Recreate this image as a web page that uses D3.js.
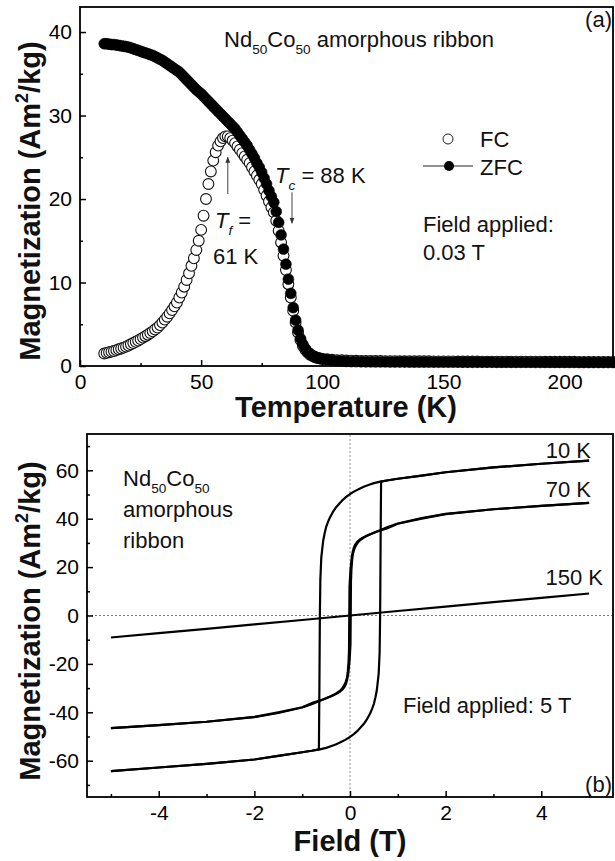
<!DOCTYPE html>
<html>
<head>
<meta charset="utf-8">
<script src="https://cdn.jsdelivr.net/npm/d3@7"></script>
<style>
  body { margin: 0; background: #fff; }
  svg { font-family: "Liberation Sans", Arial, sans-serif; }
</style>
</head>
<body>
<svg id="chart" width="615" height="861"></svg>
<script>
// ---- panel (a): M(T), FC / ZFC ----
const temps = [
  10, 11, 12, 13, 14, 15, 16, 17, 18, 19,
  20, 21, 22, 23, 24, 25, 26, 27, 28, 29,
  30, 31, 32, 33, 34, 35, 36, 37, 38, 39,
  40, 41, 42, 43, 44, 45, 46, 47, 48, 49,
  50, 51, 52, 53, 54, 55, 56, 57, 58, 59,
  60, 61, 62, 63, 64, 65, 66, 67, 68, 69,
  70, 71, 72, 73, 74, 75, 76, 77, 78, 79,
  80, 81, 82, 83, 84, 85, 86, 87, 88, 89,
  90, 91, 92, 93, 94, 95, 96, 97, 98, 99, 100,
  102, 104, 106, 108, 110, 112, 114, 116, 118, 120,
  122, 124, 126, 128, 130, 132, 134, 136, 138, 140,
  142, 144, 146, 148, 150, 152, 154, 156, 158, 160,
  162, 164, 166, 168, 170, 172, 174, 176, 178, 180,
  182, 184, 186, 188, 190, 192, 194, 196, 198, 200,
  202, 204, 206, 208, 210, 212, 214, 216, 218, 220
];
const fcMoment = [
  1.50, 1.57, 1.65, 1.72, 1.80, 1.90, 2.00, 2.10, 2.20, 2.32,
  2.45, 2.60, 2.75, 2.90, 3.05, 3.22, 3.40, 3.57, 3.75, 3.95,
  4.15, 4.37, 4.60, 4.90, 5.20, 5.55, 5.90, 6.30, 6.70, 7.15,
  7.60, 8.20, 8.80, 9.50, 10.30, 11.10, 12.00, 12.90, 13.90, 15.00,
  16.30, 18.00, 20.00, 21.80, 23.30, 24.60, 25.60, 26.40, 26.90, 27.30,
  27.50, 27.50, 27.30, 27.00, 26.70, 26.30, 25.90, 25.50, 25.10, 24.70,
  24.30, 23.80, 23.30, 22.80, 22.30, 21.80, 21.10, 20.40, 19.70, 19.00,
  18.40, 17.40, 16.20, 14.80, 13.20, 11.50, 9.80, 8.20, 6.60, 5.20,
  4.00, 3.10, 2.40, 1.95, 1.60, 1.35, 1.20, 1.05, 0.95, 0.90, 0.85,
  0.80, 0.75, 0.70, 0.68, 0.66, 0.64, 0.62, 0.61, 0.60, 0.60,
  0.59, 0.59, 0.58, 0.58, 0.58, 0.57, 0.57, 0.57, 0.56, 0.56,
  0.56, 0.56, 0.55, 0.55, 0.55, 0.55, 0.55, 0.54, 0.54, 0.54,
  0.54, 0.54, 0.53, 0.53, 0.53, 0.53, 0.53, 0.53, 0.52, 0.52,
  0.52, 0.52, 0.52, 0.52, 0.52, 0.51, 0.51, 0.51, 0.51, 0.51,
  0.51, 0.51, 0.50, 0.50, 0.50, 0.50, 0.50, 0.50, 0.50, 0.50
];
const zfcMoment = [
  38.60, 38.60, 38.55, 38.50, 38.50, 38.45, 38.40, 38.35, 38.30, 38.25,
  38.20, 38.10, 38.00, 37.90, 37.80, 37.70, 37.60, 37.50, 37.40, 37.30,
  37.20, 37.05, 36.90, 36.75, 36.60, 36.40, 36.20, 36.00, 35.80, 35.60,
  35.40, 35.20, 34.90, 34.60, 34.30, 34.00, 33.70, 33.40, 33.10, 32.85,
  32.60, 32.30, 32.00, 31.70, 31.40, 31.10, 30.80, 30.50, 30.20, 29.90,
  29.60, 29.30, 29.00, 28.70, 28.40, 28.00, 27.60, 27.20, 26.80, 26.40,
  25.90, 25.40, 24.90, 24.30, 23.80, 23.20, 22.50, 21.80, 21.00, 20.30,
  19.60, 18.50, 17.20, 15.70, 14.00, 12.20, 10.40, 8.70, 7.00, 5.50,
  4.30, 3.30, 2.60, 2.10, 1.70, 1.45, 1.25, 1.10, 1.00, 0.92, 0.85,
  0.75, 0.68, 0.62, 0.58, 0.55, 0.53, 0.52, 0.51, 0.50, 0.50,
  0.49, 0.49, 0.49, 0.48, 0.48, 0.48, 0.48, 0.47, 0.47, 0.47,
  0.47, 0.47, 0.46, 0.46, 0.46, 0.46, 0.46, 0.46, 0.45, 0.45,
  0.45, 0.45, 0.45, 0.45, 0.45, 0.44, 0.44, 0.44, 0.44, 0.44,
  0.44, 0.44, 0.44, 0.43, 0.43, 0.43, 0.43, 0.43, 0.43, 0.43,
  0.43, 0.43, 0.42, 0.42, 0.42, 0.42, 0.42, 0.42, 0.42, 0.42
];
const tempTicks = [0, 50, 100, 150, 200];
const tempMinor = [25, 75, 125, 175];
const momentTicksA = [0, 10, 20, 30, 40];
const momentMinorA = [5, 15, 25, 35];

// ---- panel (b): hysteresis loops ----
const desc10Field  = [5, 4, 3, 2, 1.5, 1, 0.8, 0.63, 0.5, 0.4, 0.3, 0.2, 0.1, 0, -0.08, -0.15, -0.22, -0.3, -0.36, -0.42, -0.46, -0.5, -0.53, -0.56, -0.58, -0.6, -0.61, -0.62, -0.63, -0.64, -0.65, -0.8, -1, -1.5, -2, -3, -4, -5];
const desc10Moment = [64.0, 62.7, 61.2, 59.2, 57.8, 56.5, 55.9, 55.3, 54.7, 54.0, 53.3, 52.4, 51.4, 50.2, 49.0, 47.8, 46.3, 44.5, 42.7, 40.5, 38.7, 36.5, 34.0, 31.0, 27.5, 24.0, 19.5, 15.0, 0, -30, -55.3, -55.9, -56.5, -58.0, -59.5, -61.3, -62.8, -64.3];
const asc10Field   = [-5, -4, -3, -2, -1.5, -1, -0.8, -0.63, -0.5, -0.4, -0.3, -0.2, -0.1, 0, 0.08, 0.15, 0.22, 0.3, 0.36, 0.42, 0.46, 0.5, 0.53, 0.56, 0.58, 0.6, 0.61, 0.62, 0.63, 0.64, 0.65, 0.8, 1, 1.5, 2, 3, 4, 5];
const asc10Moment  = [-64.3, -62.8, -61.3, -59.5, -58.0, -56.5, -55.9, -55.3, -54.7, -54.0, -53.3, -52.4, -51.4, -50.2, -49.0, -47.8, -46.3, -44.5, -42.7, -40.5, -38.7, -36.5, -34.0, -31.0, -27.5, -24.0, -19.5, -15.0, 0, 30, 55.3, 55.9, 56.5, 57.8, 59.2, 61.2, 62.7, 64.0];

const desc70Field  = [5, 4, 3, 2, 1.5, 1, 0.8, 0.63, 0.5, 0.4, 0.32, 0.25, 0.2, 0.15, 0.11, 0.08, 0.06, 0.04, 0.025, 0.01, -0.01, -0.015, -0.02, -0.03, -0.045, -0.06, -0.09, -0.12, -0.16, -0.2, -0.3, -0.4, -0.55, -0.77, -1, -1.5, -2, -3, -4, -5];
const desc70Moment = [46.5, 45.3, 43.9, 42.0, 40.3, 38.0, 36.7, 35.2, 34.2, 33.4, 32.7, 32.0, 31.3, 30.4, 29.4, 28.0, 26.5, 24.5, 22.0, 19.0, 12.0, 0, -14, -19, -23, -25.5, -27.4, -28.8, -30.0, -31.0, -32.3, -33.4, -34.6, -36.0, -37.9, -40.0, -41.9, -43.9, -45.3, -46.5];
const asc70Field   = [-5, -4, -3, -2, -1.5, -1, -0.8, -0.63, -0.5, -0.4, -0.32, -0.25, -0.2, -0.15, -0.11, -0.08, -0.06, -0.04, -0.025, -0.01, 0.01, 0.015, 0.02, 0.03, 0.045, 0.06, 0.09, 0.12, 0.16, 0.2, 0.3, 0.4, 0.55, 0.77, 1, 1.5, 2, 3, 4, 5];
const asc70Moment  = [-46.5, -45.3, -43.9, -42.0, -40.3, -38.0, -36.7, -35.2, -34.2, -33.4, -32.7, -32.0, -31.3, -30.4, -29.4, -28.0, -26.5, -24.5, -22.0, -19.0, -12.0, 0, 14, 19, 23, 25.5, 27.4, 28.8, 30.0, 31.0, 32.3, 33.4, 34.6, 36.0, 37.9, 40.0, 41.9, 43.9, 45.3, 46.5];

const loop150Field  = [-5, -4, -3, -2, -1, 0, 1, 2, 3, 4, 5];
const loop150Moment = [-9.1, -7.3, -5.5, -3.7, -1.85, 0, 1.85, 3.7, 5.5, 7.3, 9.1];

const fieldTicks = [-4, -2, 0, 2, 4];
const fieldMinor = [-5, -3, -1, 1, 3, 5];
const momentTicksB = [-60, -40, -20, 0, 20, 40, 60];
const momentMinorB = [-70, -50, -30, -10, 10, 30, 50, 70];

const svg = d3.select("#chart");

function pairs(xs, ys) {
  return xs.map((v, i) => [v, ys[i]]);
}

// plain hyphen for negatives, like the original
const plain = d => String(d);

function drawAxes(x, y, cfg) {
  const [x0, x1] = x.range();
  const [y0, y1] = y.range();

  const styleAxis = g => {
    g.select(".domain").remove();
    g.selectAll(".tick line").attr("stroke", "#000").attr("stroke-width", 1.5);
    g.selectAll(".tick text").attr("fill", "#000").style("font-size", "21px")
      .style("font-family", "'Liberation Sans', Arial, sans-serif");
  };

  svg.append("g")
    .attr("transform", `translate(0,${y0})`)
    .call(d3.axisBottom(x).tickValues(cfg.xMajor).tickFormat(plain)
      .tickSizeInner(-6).tickSizeOuter(0).tickPadding(cfg.xPad))
    .call(styleAxis);
  svg.append("g")
    .attr("transform", `translate(0,${y0})`)
    .call(d3.axisBottom(x).tickValues(cfg.xMinor).tickFormat("")
      .tickSizeInner(-3).tickSizeOuter(0))
    .call(styleAxis);

  svg.append("g")
    .attr("transform", `translate(${x0},0)`)
    .call(d3.axisLeft(y).tickValues(cfg.yMajor).tickFormat(plain)
      .tickSizeInner(-6).tickSizeOuter(0).tickPadding(cfg.yPad))
    .call(styleAxis);
  svg.append("g")
    .attr("transform", `translate(${x0},0)`)
    .call(d3.axisLeft(y).tickValues(cfg.yMinor).tickFormat("")
      .tickSizeInner(-3).tickSizeOuter(0))
    .call(styleAxis);

  svg.append("rect")
    .attr("x", x0).attr("y", y1)
    .attr("width", x1 - x0).attr("height", y0 - y1)
    .attr("fill", "none").attr("stroke", "#000").attr("stroke-width", 1.8);
}

function label(x, y, size, parts, opts = {}) {
  const t = svg.append("text")
    .attr("x", x).attr("y", y)
    .attr("text-anchor", opts.anchor || "start")
    .style("font-size", size + "px")
    .attr("fill", "#111");
  if (opts.bold) t.style("font-weight", "bold");
  if (opts.rotate) t.attr("transform", `rotate(-90,${x},${y})`);
  parts.forEach(p => {
    const s = t.append("tspan").text(p.text);
    if (p.sub) s.style("font-size", (size * 0.62) + "px").attr("dy", size * 0.3);
    if (p.sup) s.style("font-size", (size * 0.62) + "px").attr("dy", -size * 0.4);
    if (p.back) s.attr("dy", p.back);
    if (p.italic) s.style("font-style", "italic");
  });
  return t;
}

// ================= panel (a) =================
const xA = d3.scaleLinear().domain([0, 220]).range([80, 613]);
const yA = d3.scaleLinear().domain([0, 43]).range([366, 7]);

const fcData = pairs(temps, fcMoment);
const zfcData = pairs(temps, zfcMoment);

svg.append("g").selectAll("circle")
  .data(fcData).join("circle")
  .attr("cx", d => xA(d[0])).attr("cy", d => yA(d[1])).attr("r", 5.4)
  .attr("fill", "#fff").attr("stroke", "#111").attr("stroke-width", 1.1);

svg.append("g").selectAll("circle")
  .data(zfcData).join("circle")
  .attr("cx", d => xA(d[0])).attr("cy", d => yA(d[1])).attr("r", 5.4)
  .attr("fill", "#000").attr("stroke", "#000").attr("stroke-width", 0.6);

drawAxes(xA, yA, {
  xMajor: tempTicks, xMinor: tempMinor, xPad: 8,
  yMajor: momentTicksA, yMinor: momentMinorA, yPad: 8
});

// arrows
const defs = svg.append("defs");
defs.append("marker")
  .attr("id", "head").attr("viewBox", "0 0 10 10")
  .attr("refX", 9).attr("refY", 5)
  .attr("markerWidth", 6).attr("markerHeight", 8).attr("orient", "auto")
  .append("path").attr("d", "M0,1 L10,5 L0,9 Z").attr("fill", "#333");

svg.append("line")
  .attr("x1", xA(61)).attr("y1", yA(20.6))
  .attr("x2", xA(61)).attr("y2", yA(25.0))
  .attr("stroke", "#444").attr("stroke-width", 1)
  .attr("marker-end", "url(#head)");
svg.append("line")
  .attr("x1", xA(87.5)).attr("y1", yA(20.8))
  .attr("x2", xA(87.5)).attr("y2", yA(17.1))
  .attr("stroke", "#444").attr("stroke-width", 1)
  .attr("marker-end", "url(#head)");

// legend
svg.append("circle").attr("cx", 448).attr("cy", 139).attr("r", 5)
  .attr("fill", "#fff").attr("stroke", "#222").attr("stroke-width", 1);
svg.append("line").attr("x1", 423).attr("x2", 473).attr("y1", 166).attr("y2", 166)
  .attr("stroke", "#222").attr("stroke-width", 1);
svg.append("circle").attr("cx", 449).attr("cy", 166).attr("r", 5).attr("fill", "#000");
label(480, 147, 22, [{ text: "FC" }]);
label(480, 175, 22, [{ text: "ZFC" }]);

label(224, 47, 22, [
  { text: "Nd" }, { text: "50", sub: true }, { text: "Co", back: -22 * 0.3 },
  { text: "50", sub: true }, { text: " amorphous ribbon", back: -22 * 0.3 }
]);
label(612, 27, 22, [{ text: "(a)" }], { anchor: "end" });
label(275, 183, 22, [
  { text: "T", italic: true }, { text: "c", sub: true, italic: true },
  { text: " = 88 K", back: -22 * 0.3 }
]);
label(215, 228, 22, [
  { text: "T", italic: true }, { text: "f", sub: true, italic: true },
  { text: " =", back: -22 * 0.3 }
]);
label(213, 264, 22, [{ text: "61 K" }]);
label(423, 232, 22, [{ text: "Field applied:" }]);
label(423, 260, 22, [{ text: "0.03 T" }]);

label(346, 417, 29, [{ text: "Temperature (K)" }], { anchor: "middle", bold: true });
label(40, 201, 29, [
  { text: "Magnetization (Am" }, { text: "2", sup: true },
  { text: "/kg)", back: 29 * 0.4 }
], { anchor: "middle", bold: true, rotate: true });

// ================= panel (b) =================
const xB = d3.scaleLinear().domain([-5.5, 5.5]).range([87, 613]);
const yB = d3.scaleLinear().domain([-75, 75]).range([797, 434]);

svg.append("line")
  .attr("x1", xB(-5.5)).attr("x2", xB(5.5)).attr("y1", yB(0)).attr("y2", yB(0))
  .attr("stroke", "#555").attr("stroke-width", 0.8).attr("stroke-dasharray", "2,2");
svg.append("line")
  .attr("x1", xB(0)).attr("x2", xB(0)).attr("y1", yB(-75)).attr("y2", yB(75))
  .attr("stroke", "#777").attr("stroke-width", 0.8).attr("stroke-dasharray", "2,2");

const loopLine = d3.line().x(d => xB(d[0])).y(d => yB(d[1]));
const loops = [
  pairs(desc10Field, desc10Moment), pairs(asc10Field, asc10Moment),
  pairs(desc70Field, desc70Moment), pairs(asc70Field, asc70Moment),
  pairs(loop150Field, loop150Moment)
];
svg.append("g").selectAll("path")
  .data(loops).join("path")
  .attr("d", loopLine)
  .attr("fill", "none").attr("stroke", "#000").attr("stroke-width", 2.2)
  .attr("stroke-linejoin", "round");

drawAxes(xB, yB, {
  xMajor: fieldTicks, xMinor: fieldMinor, xPad: 8,
  yMajor: momentTicksB, yMinor: momentMinorB, yPad: 8
});

label(591, 458, 22, [{ text: "10 K" }], { anchor: "end" });
label(591, 497, 22, [{ text: "70 K" }], { anchor: "end" });
label(603, 585, 22, [{ text: "150 K" }], { anchor: "end" });
label(123, 486, 22, [
  { text: "Nd" }, { text: "50", sub: true }, { text: "Co", back: -22 * 0.3 },
  { text: "50", sub: true }
]);
label(123, 517, 22, [{ text: "amorphous" }]);
label(123, 548, 22, [{ text: "ribbon" }]);
label(403, 713, 22, [{ text: "Field applied: 5 T" }]);
label(612, 792, 22, [{ text: "(b)" }], { anchor: "end" });

label(350, 851, 29, [{ text: "Field (T)" }], { anchor: "middle", bold: true });
label(40, 621, 29, [
  { text: "Magnetization (Am" }, { text: "2", sup: true },
  { text: "/kg)", back: 29 * 0.4 }
], { anchor: "middle", bold: true, rotate: true });
</script>
</body>
</html>
